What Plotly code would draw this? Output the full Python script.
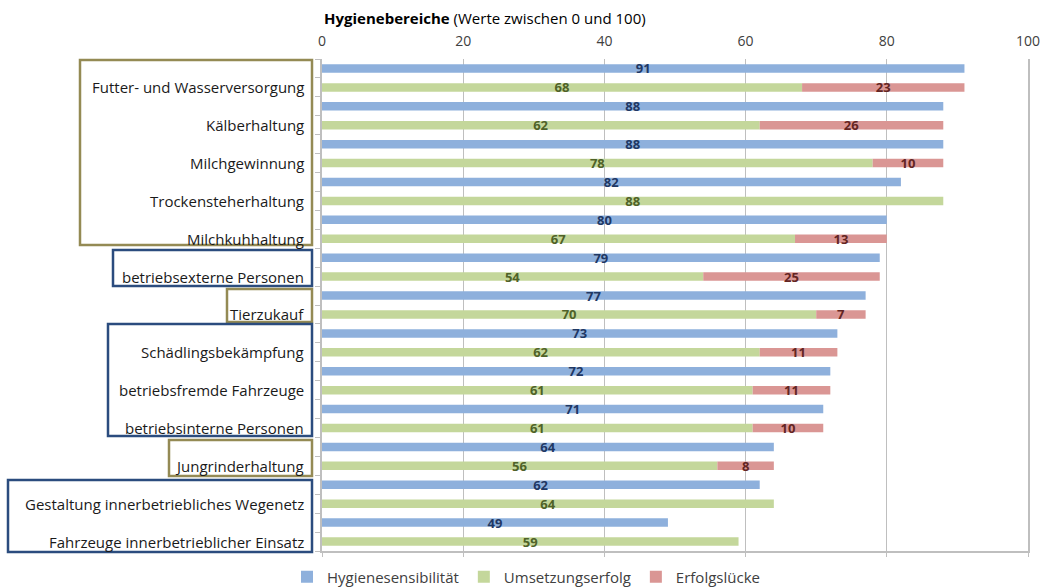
import plotly.graph_objects as go

# Hygiene areas, each shown as two bar rows (sensitivity above, implementation below)
categories = [
    "Futter- und Wasserversorgung",
    "Kälberhaltung",
    "Milchgewinnung",
    "Trockensteherhaltung",
    "Milchkuhhaltung",
    "betriebsexterne Personen",
    "Tierzukauf",
    "Schädlingsbekämpfung",
    "betriebsfremde Fahrzeuge",
    "betriebsinterne Personen",
    "Jungrinderhaltung",
    "Gestaltung innerbetriebliches Wegenetz",
    "Fahrzeuge innerbetrieblicher Einsatz",
]
hygienesensibilitaet = [91, 88, 88, 82, 80, 79, 77, 73, 72, 71, 64, 62, 49]
umsetzungserfolg = [68, 62, 78, 88, 67, 54, 70, 62, 61, 61, 56, 64, 59]
erfolgsluecke = [23, 26, 10, None, 13, 25, 7, 11, 11, 10, 8, None, None]
x_ticks = [0, 20, 40, 60, 80, 100]

# outlined label groups: (colour, left, top, right, bottom) in pixels
OLIVE = "#948A54"
NAVY = "#2B4C7E"
group_boxes = [
    (OLIVE, 80, 60, 312, 245),
    (NAVY, 113, 250, 312, 286),
    (OLIVE, 227, 289, 312, 322),
    (NAVY, 108, 324, 312, 436),
    (OLIVE, 169, 440, 312, 476),
    (NAVY, 8, 480, 312, 552),
]

W, H = 1040, 587
ML, MR, MT, MB = 322, 12, 59, 36
PW, PH = W - ML - MR, H - MT - MB


def px_x(x):
    return (x - ML) / PW


def px_y(y):
    return (H - MB - y) / PH


n = len(categories)
blue_rows = [2 * i for i in range(n)]
green_rows = [2 * i + 1 for i in range(n)]
FONT = "Open Sans"
BAR_W = 0.45

fig = go.Figure()
bar_common = dict(
    orientation="h", width=BAR_W, textposition="inside",
    insidetextanchor="middle", constraintext="none", textangle=0,
    hoverinfo="skip",
)
fig.add_trace(go.Bar(
    name="Hygienesensibilität",
    x=hygienesensibilitaet, y=blue_rows,
    marker=dict(color="#8EB0DC", line=dict(width=0)),
    text=[str(v) for v in hygienesensibilitaet],
    textfont=dict(family=FONT, size=13, color="#1F3864", weight="bold"),
    **bar_common,
))
fig.add_trace(go.Bar(
    name="Umsetzungserfolg",
    x=umsetzungserfolg, y=green_rows,
    marker=dict(color="#C4D79B", line=dict(width=0)),
    text=[str(v) for v in umsetzungserfolg],
    textfont=dict(family=FONT, size=13, color="#4F6228", weight="bold"),
    **bar_common,
))
fig.add_trace(go.Bar(
    name="Erfolgslücke",
    x=[v if v is not None else 0 for v in erfolgsluecke],
    base=umsetzungserfolg, y=green_rows,
    marker=dict(color="#DA9694", line=dict(width=0)),
    text=[str(v) if v is not None else "" for v in erfolgsluecke],
    textfont=dict(family=FONT, size=13, color="#632523", weight="bold"),
    **bar_common,
))
# carrier for the bottom frame axis
fig.add_trace(go.Scatter(x=[None], y=[None], xaxis="x2", showlegend=False,
                         hoverinfo="skip"))

annotations = []
for i, cat in enumerate(categories):
    annotations.append(dict(
        x=px_x(306), xref="paper", y=green_rows[i], yref="y",
        text=cat, showarrow=False, xanchor="right", yanchor="middle",
        font=dict(family=FONT, size=15, color="#1A1A1A"),
    ))
annotations.append(dict(
    x=0, xref="paper", y=px_y(18), yref="paper",
    text="<b>Hygienebereiche</b> (Werte zwischen 0 und 100)",
    showarrow=False, xanchor="left", yanchor="middle",
    font=dict(family=FONT, size=15, color="#000000"),
))

shapes = []
for color, left, top, right, bottom in group_boxes:
    shapes.append(dict(
        type="rect", xref="paper", yref="paper",
        x0=px_x(left), x1=px_x(right), y0=px_y(top), y1=px_y(bottom),
        line=dict(color=color, width=2.5), fillcolor="rgba(0,0,0,0)",
        layer="above",
    ))

fig.update_layout(
    width=W, height=H,
    margin=dict(l=ML, r=MR, t=MT, b=MB, autoexpand=False),
    paper_bgcolor="white", plot_bgcolor="white",
    barmode="overlay",
    font=dict(family=FONT, color="#404040"),
    xaxis=dict(
        side="top", range=[0, 100], tickvals=x_ticks,
        showgrid=True, gridcolor="#BFBFBF", gridwidth=1,
        zeroline=False, showline=False,
        ticks="outside", ticklen=6, tickcolor="rgba(0,0,0,0)",
        ticklabeloverflow="allow",
        tickfont=dict(family=FONT, size=14, color="#404040"),
    ),
    xaxis2=dict(
        overlaying="x", side="bottom", anchor="y", range=[0, 100],
        tickvals=x_ticks, showticklabels=False, showgrid=False,
        zeroline=False, showline=True, linecolor="#BFBFBF", linewidth=1.5,
        ticks="outside", ticklen=4, tickcolor="#BFBFBF",
    ),
    yaxis=dict(
        range=[2 * n - 0.5, -0.5],
        tickvals=[k - 0.5 for k in range(2 * n + 1)],
        showticklabels=False, showgrid=False, zeroline=False,
        showline=True, mirror=True, linecolor="#BFBFBF", linewidth=1.5,
        ticks="outside", ticklen=5, tickcolor="#BFBFBF",
    ),
    legend=dict(
        orientation="h", x=px_x(287), y=px_y(577),
        xanchor="left", yanchor="middle",
        font=dict(family=FONT, size=15, color="#404040"),
        traceorder="normal", tracegroupgap=0,
    ),
    showlegend=True,
    annotations=annotations,
    shapes=shapes,
)

fig.write_html("out.html")
